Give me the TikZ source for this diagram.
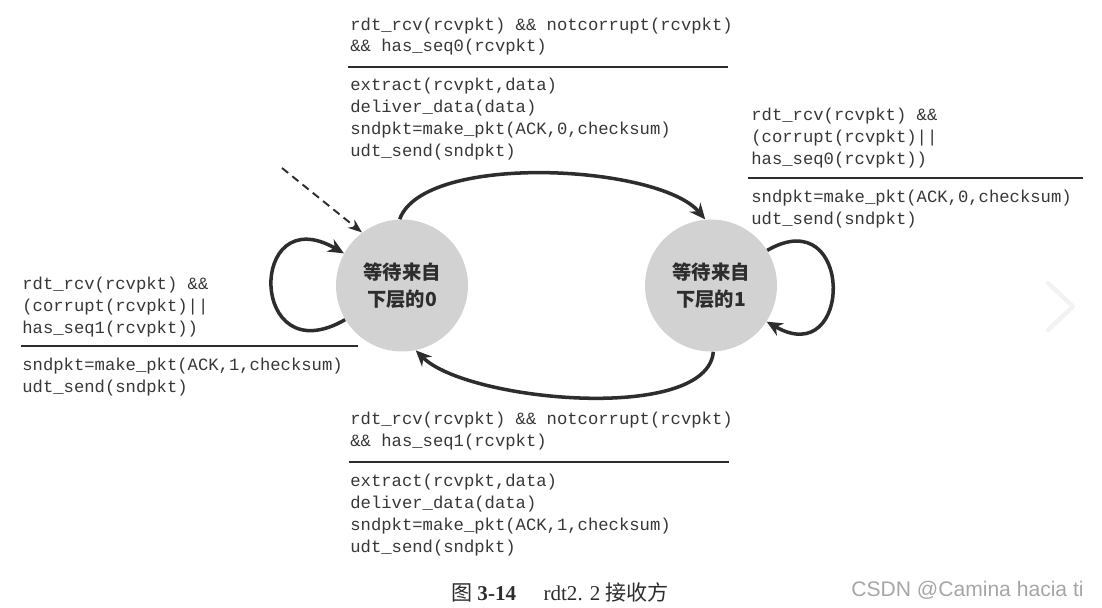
\documentclass[tikz,border=0pt]{standalone}
\usepackage{fontspec}
\setmainfont{Liberation Serif}
\setmonofont{Liberation Mono}
\newfontfamily\cjk{Noto Sans CJK SC}
\newfontfamily\wmfont{Liberation Sans}
\usetikzlibrary{arrows.meta,positioning,calc}
\definecolor{statefill}{RGB}{210,210,210}
\definecolor{ink}{RGB}{45,45,45}
\definecolor{txt}{RGB}{55,55,55}

\begin{document}
\begin{tikzpicture}[
  state/.style={circle, fill=statefill, minimum size=2.64cm, inner sep=0pt,
                align=center, font=\cjk\bfseries\fontsize{11}{15}\selectfont, text=ink},
  codetxt/.style={anchor=base west, inner sep=0pt, align=left,
                  font=\ttfamily\fontsize{9.8}{12.5}\selectfont, text=txt},
  trans/.style={-{Stealth[length=9pt,width=8pt]}, line width=2pt, draw=ink},
  initarr/.style={-{Stealth[length=8pt,width=6pt]}, line width=1.1pt, draw=ink,
                  dash pattern=on 4.5pt off 3pt},
  rule/.style={line width=1pt, draw=ink},
]
\useasboundingbox (0,0) rectangle (22.04,12.14);

% states
\node[state] (s0) at (8.04,6.43) {等待来自\\下层的0};
\node[state] (s1) at (14.22,6.43) {等待来自\\下层的1};

% 0 -> 1 (base = last line)
\node[codetxt] (g01) at (7.0,11.10) {rdt\_rcv(rcvpkt) \&\& notcorrupt(rcvpkt)\\\&\& has\_seq0(rcvpkt)};
\node[codetxt] (a01) at (7.0,9.02) {extract(rcvpkt,data)\\deliver\_data(data)\\sndpkt=make\_pkt(ACK,0,checksum)\\udt\_send(sndpkt)};
\draw[rule] (6.96,10.80) -- (14.56,10.80);

% 1 -> 1
\node[codetxt] (g11) at (15.02,8.86) {rdt\_rcv(rcvpkt) \&\&\\(corrupt(rcvpkt)||\\has\_seq0(rcvpkt))};
\node[codetxt] (a11) at (15.02,7.66) {sndpkt=make\_pkt(ACK,0,checksum)\\udt\_send(sndpkt)};
\draw[rule] (14.96,8.58) -- (21.66,8.58);

% 0 -> 0
\node[codetxt] (g00) at (0.44,5.48) {rdt\_rcv(rcvpkt) \&\&\\(corrupt(rcvpkt)||\\has\_seq1(rcvpkt))};
\node[codetxt] (a00) at (0.44,4.30) {sndpkt=make\_pkt(ACK,1,checksum)\\udt\_send(sndpkt)};
\draw[rule] (0.42,5.22) -- (7.16,5.22);

% 1 -> 0
\node[codetxt] (g10) at (7.0,3.22) {rdt\_rcv(rcvpkt) \&\& notcorrupt(rcvpkt)\\\&\& has\_seq1(rcvpkt)};
\node[codetxt] (a10) at (7.0,1.10) {extract(rcvpkt,data)\\deliver\_data(data)\\sndpkt=make\_pkt(ACK,1,checksum)\\udt\_send(sndpkt)};
\draw[rule] (6.98,2.90) -- (14.58,2.90);

% transitions
\draw[trans] (s0.92) to[out=70,in=130,looseness=0.6] (s1.95);
\draw[trans] (s1.-88) to[out=-95,in=-45,looseness=0.62] (s0.-78);
\draw[trans] (s0.211) to[out=210,in=150,looseness=4.3] (s0.151);
\draw[trans] (s1.32) to[out=30,in=-30,looseness=3.6] (s1.-33);
\coordinate (start) at (5.64,8.78);
\draw[initarr] (start) -- (s0.127);

% caption, watermark
\node[font=\fontsize{12}{14}\selectfont, text=ink] (cap) at (11.2,0.30)
  {{\cjk 图} \textbf{3-14}\hspace{1.3em}rdt2. 2 {\cjk 接收方}};
\node[font=\wmfont\fontsize{12}{14}\selectfont, text=gray!70] (wm) at (19.35,0.34) {CSDN @Camina hacia ti};
\draw[gray!10, line width=2.5pt, line cap=round, line join=round]
  (20.96,6.48) -- (21.46,6.01) -- (20.96,5.54);
\end{tikzpicture}
\end{document}
